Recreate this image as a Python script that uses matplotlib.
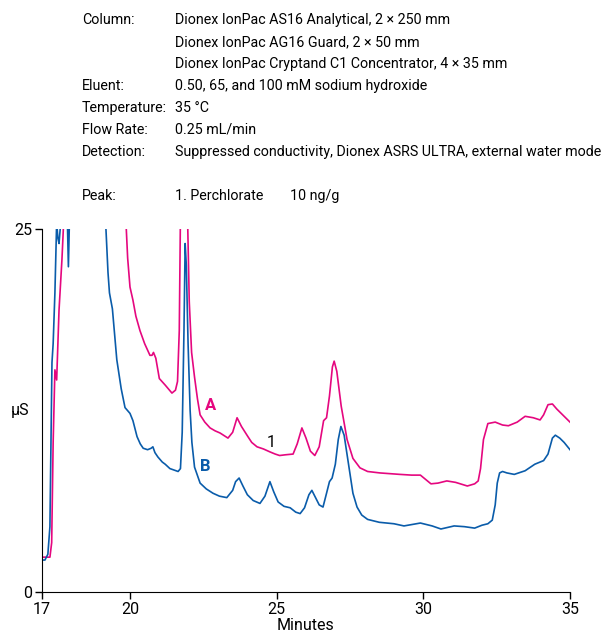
import matplotlib
matplotlib.use('Agg')
import matplotlib.pyplot as plt

# trace B (blue), minutes vs uS
b_min = [17.0, 17.1, 17.2, 17.27, 17.34, 17.38, 17.44, 17.5, 17.54, 17.58, 17.62, 17.66,
         17.86, 17.9, 17.94, 19.12, 19.18, 19.25, 19.3, 19.4, 19.55, 19.7, 19.83, 20.0,
         20.1, 20.24, 20.35, 20.45, 20.6, 20.72, 20.78, 20.85, 20.95, 21.1, 21.2, 21.36,
         21.5, 21.64, 21.72, 21.78, 21.84, 21.88, 21.92, 21.98, 22.05, 22.11, 22.2, 22.39,
         22.6, 22.83, 23.05, 23.3, 23.5, 23.6, 23.72, 23.85, 24.0, 24.2, 24.43, 24.6,
         24.77, 24.9, 25.05, 25.25, 25.46, 25.65, 25.8, 25.95, 26.1, 26.2, 26.3, 26.45,
         26.58, 26.7, 26.8, 26.89, 27.0, 27.1, 27.19, 27.3, 27.45, 27.6, 27.74, 27.9,
         28.1, 28.5, 29.0, 29.34, 29.9, 30.3, 30.6, 31.05, 31.4, 31.75, 32.0, 32.2,
         32.35, 32.45, 32.52, 32.6, 32.7, 32.85, 33.1, 33.47, 33.8, 34.1, 34.25, 34.4,
         34.5, 34.65, 34.8, 35.0]
b_us = [2.2, 2.2, 2.6, 4.5, 15.8, 17.1, 20.6, 25.5, 24.4, 24.0, 25.0, 27.0,
        26.0, 22.4, 26.0, 27.0, 25.0, 22.0, 20.6, 19.5, 16.0, 14.0, 12.7, 12.3,
        11.8, 10.7, 10.2, 9.9, 9.8, 9.9, 10.0, 9.6, 9.3, 8.95, 8.8, 8.5,
        8.4, 8.3, 8.5, 11.0, 18.0, 24.0, 22.5, 17.1, 12.5, 10.3, 8.6, 7.5,
        7.1, 6.8, 6.6, 6.5, 7.0, 7.6, 7.85, 7.3, 6.7, 6.3, 6.1, 6.6,
        7.6, 6.9, 6.2, 5.9, 5.8, 5.5, 5.4, 5.8, 6.7, 7.0, 6.6, 6.0,
        5.85, 6.8, 7.6, 7.85, 8.8, 10.5, 11.4, 10.8, 8.8, 6.8, 5.85, 5.3,
        5.0, 4.8, 4.7, 4.55, 4.75, 4.55, 4.34, 4.55, 4.5, 4.4, 4.6, 4.7,
        4.95, 6.0, 7.5, 8.2, 8.3, 8.2, 8.1, 8.35, 8.8, 9.05, 9.5, 10.6,
        10.8, 10.6, 10.3, 9.8]

# trace A (magenta)
a_min = [17.0, 17.1, 17.2, 17.27, 17.33, 17.38, 17.44, 17.5, 17.58, 17.68, 17.75, 19.85,
         19.92, 20.0, 20.1, 20.2, 20.34, 20.5, 20.68, 20.75, 20.8, 20.88, 21.0, 21.2,
         21.43, 21.55, 21.62, 21.68, 21.72, 21.96, 22.02, 22.1, 22.2, 22.3, 22.39, 22.55,
         22.73, 22.9, 23.07, 23.34, 23.5, 23.65, 23.8, 24.02, 24.15, 24.33, 24.55, 24.77,
         24.95, 25.1, 25.3, 25.56, 25.7, 25.86, 26.0, 26.15, 26.3, 26.45, 26.6, 26.7,
         26.8, 26.9, 26.96, 27.05, 27.2, 27.4, 27.6, 27.84, 28.1, 28.52, 29.2, 29.6,
         29.9, 30.26, 30.5, 30.8, 31.1, 31.5, 31.75, 31.87, 31.95, 32.05, 32.2, 32.45,
         32.7, 32.9, 33.2, 33.47, 33.75, 33.98, 34.1, 34.25, 34.4, 34.55, 34.75, 35.0]
a_us = [2.4, 2.4, 2.4, 2.4, 3.4, 10.3, 15.3, 14.6, 19.4, 22.9, 26.0, 26.0,
        23.0, 21.0, 20.1, 19.0, 18.0, 17.1, 16.3, 16.3, 16.5, 16.1, 14.7, 14.25,
        13.7, 13.9, 14.5, 18.0, 26.0, 26.0, 20.0, 16.5, 14.8, 13.3, 12.2, 11.7,
        11.3, 11.1, 10.95, 10.6, 11.0, 12.0, 11.4, 10.7, 10.3, 10.0, 9.85, 9.65,
        9.5, 9.4, 9.45, 9.5, 10.2, 11.3, 10.6, 9.7, 9.4, 10.0, 11.8, 12.0,
        13.5, 15.5, 15.9, 15.2, 12.8, 10.5, 9.2, 8.55, 8.3, 8.2, 8.1, 8.05,
        8.05, 7.45, 7.5, 7.65, 7.55, 7.3, 7.45, 7.65, 8.5, 10.5, 11.6, 11.7,
        11.5, 11.45, 11.7, 12.1, 12.0, 11.85, 12.2, 12.9, 12.95, 12.6, 12.2, 11.7]

x_ticks = [17, 20, 25, 30, 35]
y_ticks = [0, 25]

info_rows = [
    ('Column:', 'Dionex IonPac AS16 Analytical, 2 \u00d7 250 mm'),
    ('', 'Dionex IonPac AG16 Guard, 2 \u00d7 50 mm'),
    ('', 'Dionex IonPac Cryptand C1 Concentrator, 4 \u00d7 35 mm'),
    ('Eluent:', '0.50, 65, and 100 mM sodium hydroxide'),
    ('Temperature:', '35 \u00b0C'),
    ('Flow Rate:', '0.25 mL/min'),
    ('Detection:', 'Suppressed conductivity, Dionex ASRS ULTRA, external water mode'),
]

PINK = '#E5077F'
BLUE = '#0A5CAA'
plt.rcParams['font.family'] = ['Roboto', 'DejaVu Sans']

fig = plt.figure(figsize=(6.03, 6.37), dpi=100)
ax = fig.add_axes([42 / 603, 1 - 592 / 637, 528 / 603, 363 / 637])

ax.plot(a_min, a_us, color=PINK, lw=1.2)
ax.plot(b_min, b_us, color=BLUE, lw=1.2)

ax.set_xlim(17, 35)
ax.set_ylim(0, 25)
ax.set_xticks(x_ticks)
ax.set_yticks(y_ticks)
ax.tick_params(labelsize=11.5, length=5, width=1, direction='out', pad=2)
for s in ['top', 'right']:
    ax.spines[s].set_visible(False)
ax.set_xlabel('Minutes', fontsize=11.5, labelpad=1)
ax.text(-0.025, 0.5, '\u00b5S', transform=ax.transAxes, fontsize=11.5,
        ha='right', va='center')

ax.text(22.55, 12.55, 'A', color=PINK, fontsize=12, fontweight='bold')
ax.text(22.4, 8.3, 'B', color=BLUE, fontsize=12, fontweight='bold')
ax.text(24.65, 10.0, '1', fontsize=11.5)

# method block above the plot
fs = 10.3
for i, (k, v) in enumerate(info_rows):
    y = 1 - (20 + 22 * i) / 637
    fig.text(82 / 603, y, k, fontsize=fs, va='center')
    fig.text(175 / 603, y, v, fontsize=fs, va='center')
y = 1 - 196 / 637
fig.text(82 / 603, y, 'Peak:', fontsize=fs, va='center')
fig.text(175 / 603, y, '1. Perchlorate', fontsize=fs, va='center')
fig.text(290 / 603, y, '10 ng/g', fontsize=fs, va='center')

fig.savefig('out.png', dpi=100)
